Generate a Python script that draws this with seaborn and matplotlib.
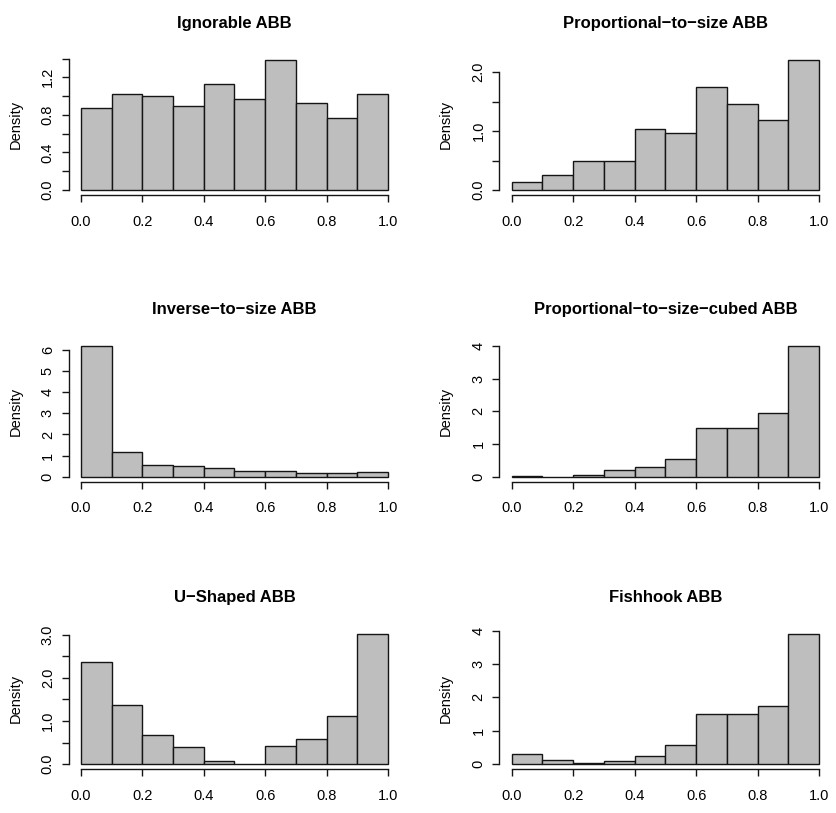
import numpy as np
import pandas as pd
import matplotlib
matplotlib.use("Agg")
import matplotlib.pyplot as plt
import seaborn as sns

sns.set_theme(style="white")
plt.rcParams["font.family"] = ["Liberation Sans", "DejaVu Sans"]
plt.rcParams["text.color"] = "black"
plt.rcParams["axes.labelcolor"] = "black"

# ---- data (density per bin, bins of width 0.1 on [0, 1]) ----
bin_edges = [0.0, 0.1, 0.2, 0.3, 0.4, 0.5, 0.6, 0.7, 0.8, 0.9, 1.0]
titles = [
    "Ignorable ABB",
    "Proportional\u2212to\u2212size ABB",
    "Inverse\u2212to\u2212size ABB",
    "Proportional\u2212to\u2212size\u2212cubed ABB",
    "U\u2212Shaped ABB",
    "Fishhook ABB",
]
ignorable = [0.87, 1.02, 1.005, 0.89, 1.13, 0.97, 1.39, 0.93, 0.77, 1.02]
prop_size = [0.13, 0.255, 0.50, 0.50, 1.03, 0.96, 1.756, 1.467, 1.19, 2.215]
inverse_size = [6.19, 1.17, 0.54, 0.52, 0.43, 0.28, 0.28, 0.17, 0.16, 0.20]
prop_cubed = [0.02, 0.005, 0.05, 0.19, 0.295, 0.53, 1.50, 1.49, 1.94, 4.0]
u_shaped = [2.36, 1.37, 0.68, 0.40, 0.08, 0.01, 0.41, 0.59, 1.11, 3.03]
fishhook = [0.31, 0.12, 0.02, 0.08, 0.25, 0.56, 1.49, 1.51, 1.75, 3.91]
series = [ignorable, prop_size, inverse_size, prop_cubed, u_shaped, fishhook]

x_ticks = [0.0, 0.2, 0.4, 0.6, 0.8, 1.0]
x_tick_labels = ["0.0", "0.2", "0.4", "0.6", "0.8", "1.0"]
# y ticks: (tick values, label values shown, format)
y_ticks = [
    ([0.0, 0.2, 0.4, 0.6, 0.8, 1.0, 1.2, 1.4], [0.0, 0.4, 0.8, 1.2], "{:.1f}"),
    ([0.0, 0.5, 1.0, 1.5, 2.0], [0.0, 1.0, 2.0], "{:.1f}"),
    ([0, 1, 2, 3, 4, 5, 6], [0, 1, 2, 3, 4, 5, 6], "{:.0f}"),
    ([0, 1, 2, 3, 4], [0, 1, 2, 3, 4], "{:.0f}"),
    ([0.0, 0.5, 1.0, 1.5, 2.0, 2.5, 3.0], [0.0, 1.0, 2.0, 3.0], "{:.1f}"),
    ([0, 1, 2, 3, 4], [0, 1, 2, 3, 4], "{:.0f}"),
]

W, H = 837, 813
fig = plt.figure(figsize=(W / 100, H / 100), dpi=100)

col_lr = [(68.7, 400.3), (499.4, 831.3)]
row_tb = [(54.3, 195.2), (340.8, 481.9), (628.3, 769.3)]

ink = "#151515"
mids = [(a + b) / 2 for a, b in zip(bin_edges[:-1], bin_edges[1:])]

for i, (vals, title, (yt, yl, fmt)) in enumerate(zip(series, titles, y_ticks)):
    r, c = divmod(i, 2)
    l, rgt = col_lr[c]
    t, b = row_tb[r]
    ax = fig.add_axes([l / W, 1 - b / H, (rgt - l) / W, (b - t) / H])
    df = pd.DataFrame({"x": mids, "density": vals})
    sns.histplot(data=df, x="x", weights="density", bins=bin_edges, stat="count",
                 color="#BEBEBE", edgecolor=ink, linewidth=1.0, alpha=1.0, ax=ax)
    ymax = max(vals)
    ax.set_xlim(-0.04, 1.04)
    ax.set_ylim(-0.04 * ymax, 1.04 * ymax)
    ax.set_facecolor("white")
    for s in ["top", "right"]:
        ax.spines[s].set_visible(False)
    ax.spines["left"].set_bounds(yt[0], yt[-1])
    ax.spines["bottom"].set_bounds(0.0, 1.0)
    for s in ["left", "bottom"]:
        ax.spines[s].set_color(ink)
        ax.spines[s].set_linewidth(1.0)
    ax.set_xticks(x_ticks)
    ax.set_xticklabels(x_tick_labels)
    ax.set_yticks(yt)
    ax.set_yticklabels([fmt.format(v) if v in yl else "" for v in yt])
    ax.tick_params(axis="both", which="both", direction="out", length=5, width=1.0,
                   color=ink, labelsize=10.5, labelcolor="black", bottom=True, left=True)
    ax.tick_params(axis="x", pad=9)
    ax.tick_params(axis="y", pad=5, labelrotation=90)
    for lab in ax.get_yticklabels():
        lab.set_va("center")
    ax.set_xlabel("")
    ax.set_ylabel("Density", fontsize=10.5, color="black")
    ax.yaxis.set_label_coords(-0.14, 0.5)
    ax.set_title(title, fontsize=12, fontweight="bold", pad=19, color="black")
    ax.grid(False)

fig.savefig("out.png", dpi=100)
